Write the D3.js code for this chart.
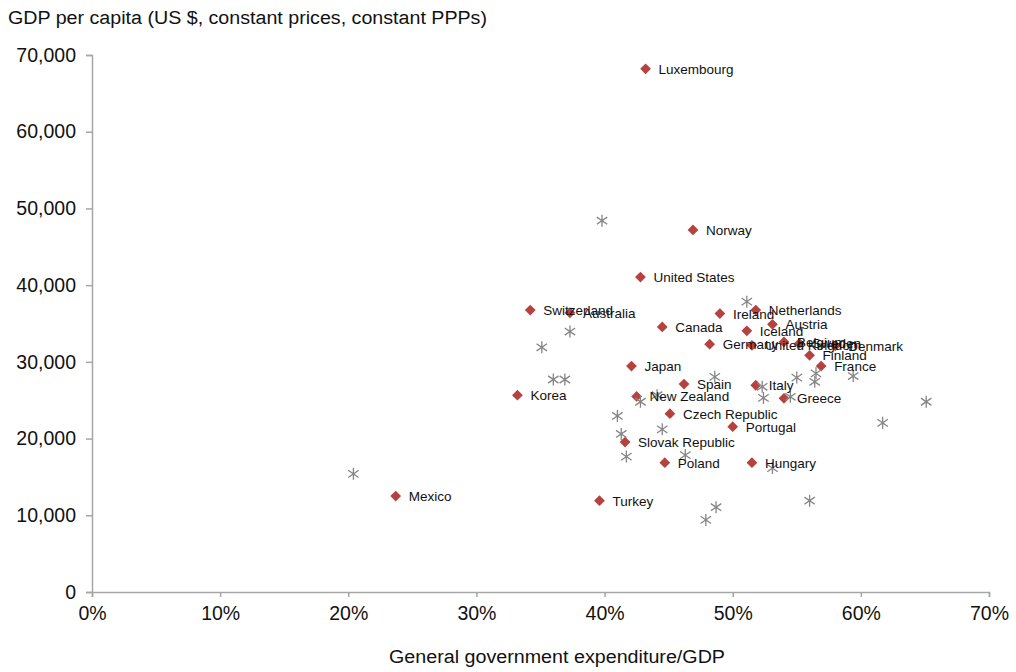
<!DOCTYPE html>
<html>
<head>
<meta charset="utf-8">
<script src="https://cdn.jsdelivr.net/npm/d3@7"></script>
<style>
  html, body { margin: 0; padding: 0; background: #fff; }
  svg { display: block; font-family: "Liberation Sans", Arial, sans-serif; }
</style>
</head>
<body>
<svg id="chart" width="1016" height="672"></svg>
<script>
// ---- Data ----
const countries = ["Luxembourg","Norway","United States","Switzerland","Australia","Canada",
  "Ireland","Netherlands","Austria","Iceland","Germany","United Kingdom","Belgium","Sweden",
  "Denmark","Finland","France","Japan","Spain","Italy","Greece","New Zealand","Korea",
  "Czech Republic","Portugal","Slovak Republic","Poland","Hungary","Turkey","Mexico"];
const expenditureShare = [0.432,0.469,0.428,0.342,0.373,0.445,
  0.490,0.518,0.531,0.511,0.482,0.515,0.540,0.552,
  0.580,0.560,0.569,0.421,0.462,0.518,0.540,0.425,0.332,
  0.451,0.500,0.416,0.447,0.515,0.396,0.237];
const gdpPerCapita = [68200,47200,41050,36750,36400,34550,
  36300,36750,34900,34050,32300,32150,32600,32400,
  32100,30850,29450,29450,27100,26950,25250,25500,25650,
  23250,21550,19550,16850,16850,11900,12500];

// second series (grey asterisks, unlabelled)
const otherExpenditureShare = [0.398,0.511,0.373,0.351,0.360,0.369,0.428,0.441,0.486,0.523,
  0.524,0.545,0.550,0.565,0.564,0.594,0.651,0.617,0.410,0.413,0.445,0.417,0.463,0.531,
  0.487,0.479,0.560,0.204];
const otherGdpPerCapita = [48400,37850,33950,31900,27700,27700,24800,25650,28050,26750,
  25300,25450,27950,28500,27400,28150,24800,22050,22950,20600,21200,17650,17850,16150,
  11050,9400,11900,15400];

const xTicks = [0,0.1,0.2,0.3,0.4,0.5,0.6,0.7];
const yTicks = [0,10000,20000,30000,40000,50000,60000,70000];
const yTitle = "GDP per capita (US $, constant prices, constant PPPs)";
const xTitle = "General government expenditure/GDP";

// ---- Layout ----
const svg = d3.select("#chart");
const x = d3.scaleLinear().domain([0, 0.7]).range([92, 989]);
const y = d3.scaleLinear().domain([0, 70000]).range([592, 55]);
const axisColor = "#a6a6a6";
const redFill = "#B6423F";
const starColor = "#868686";

// Y axis
const yAxis = d3.axisLeft(y).tickValues(yTicks).tickSize(6).tickPadding(10)
  .tickFormat(d => d3.format(",")(d));
const gy = svg.append("g").attr("transform", `translate(${x(0)},0)`).call(yAxis);
gy.select(".domain").attr("stroke", axisColor).attr("stroke-width", 1.5);
gy.selectAll(".tick line").attr("stroke", axisColor).attr("stroke-width", 1.5);
gy.selectAll(".tick text").attr("font-size", 19.5).attr("fill", "#111")
  .attr("font-family", "Liberation Sans, Arial, sans-serif");

// X axis
const xAxis = d3.axisBottom(x).tickValues(xTicks).tickSize(5).tickPadding(9)
  .tickFormat(d3.format(".0%"));
const gx = svg.append("g").attr("transform", `translate(0,${y(0)})`).call(xAxis);
gx.select(".domain").attr("stroke", axisColor).attr("stroke-width", 1.5);
gx.selectAll(".tick line").attr("stroke", axisColor).attr("stroke-width", 1.5);
gx.selectAll(".tick text").attr("font-size", 19.5).attr("fill", "#111")
  .attr("font-family", "Liberation Sans, Arial, sans-serif");

// Titles
svg.append("text").attr("x", 8).attr("y", 24).attr("font-size", 18).attr("fill", "#111")
  .attr("textLength", 479).attr("lengthAdjust", "spacingAndGlyphs").text(yTitle);
svg.append("text").attr("x", 557).attr("y", 663).attr("text-anchor", "middle")
  .attr("font-size", 18).attr("fill", "#111")
  .attr("textLength", 336).attr("lengthAdjust", "spacingAndGlyphs").text(xTitle);

// Red diamonds
const mainData = countries.map((c, i) => ({name: c, x: expenditureShare[i], y: gdpPerCapita[i]}));
const diamond = d3.symbol().type(d3.symbolSquare).size(58);
svg.append("g").selectAll("path").data(mainData).join("path")
  .attr("d", diamond)
  .attr("transform", d => `translate(${x(d.x)},${y(d.y)}) rotate(45)`)
  .attr("fill", redFill);

// Grey asterisks
const otherData = otherExpenditureShare.map((v, i) => ({x: v, y: otherGdpPerCapita[i]}));
const r = 6;
const starPath = `M0,${-r}L0,${r}M${-r*0.87},${-r*0.6}L${r*0.87},${r*0.6}M${-r*0.87},${r*0.6}L${r*0.87},${-r*0.6}`;
svg.append("g").selectAll("path").data(otherData).join("path")
  .attr("d", starPath)
  .attr("transform", d => `translate(${x(d.x)},${y(d.y)})`)
  .attr("fill", "none").attr("stroke", starColor).attr("stroke-width", 1.3);

// Labels
svg.append("g").selectAll("text").data(mainData).join("text")
  .attr("x", d => x(d.x) + 13)
  .attr("y", d => y(d.y) + 5)
  .attr("font-size", 13.5).attr("fill", "#111")
  .text(d => d.name);
</script>
</body>
</html>
